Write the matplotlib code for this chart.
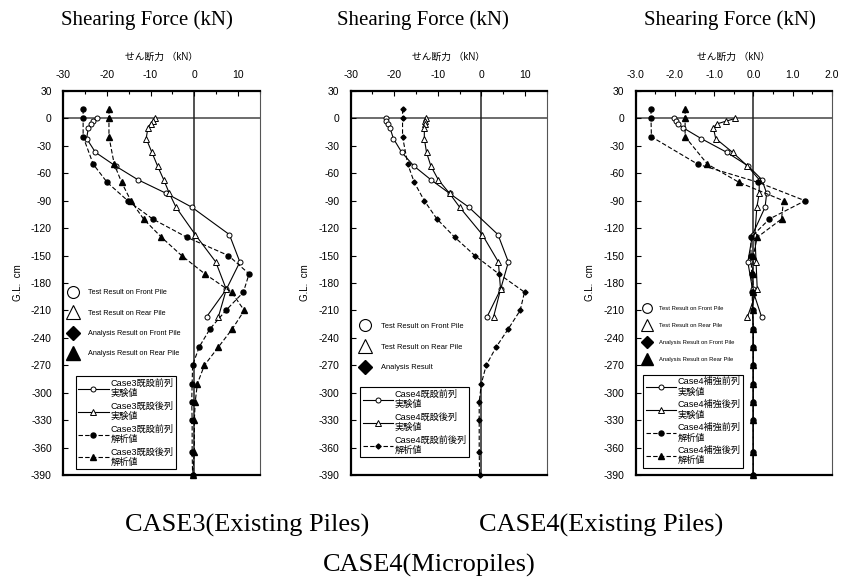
#!/usr/bin/env python3
"""Shearing force distribution along piles - Case3 / Case4 comparison"""
import matplotlib
matplotlib.use("Agg")
import matplotlib.pyplot as plt
from matplotlib.lines import Line2D
from matplotlib.ticker import MultipleLocator

plt.rcParams['font.family'] = ['Liberation Sans', 'Noto Sans CJK JP']
plt.rcParams['axes.unicode_minus'] = False

# depths (G.L. cm)
TEST_DEPTH = [0, -3, -6, -10, -22, -37, -52, -67, -82, -97, -127, -157, -187, -217]
ANALYSIS_DEPTH = [10, 0, -20, -50, -70, -90, -110, -130, -150, -170, -190, -210,
                  -230, -250, -270, -290, -310, -330, -365, -390]

# Case3 existing piles (kN)
C3_FRONT_TEST = [-22.3, -23.1, -23.7, -24.2, -24.6, -22.6, -18.0, -12.9, -6.4, -0.6, 8.0, 10.4, 7.3, 2.8]
C3_REAR_TEST = [-8.9, -9.5, -10.0, -10.6, -11.0, -9.7, -8.4, -7.0, -5.7, -4.2, 0.2, 4.9, 7.3, 5.5]
C3_FRONT_ANA = [-25.4, -25.4, -25.4, -23.1, -19.9, -15.2, -9.5, -1.7, 7.8, 12.5, 11.2, 7.2,
                3.6, 1.1, -0.4, -0.5, -0.6, -0.5, -0.5, -0.4]
C3_REAR_ANA = [-19.5, -19.5, -19.5, -18.3, -16.6, -14.5, -11.6, -7.5, -2.9, 2.4, 8.5, 11.4,
               8.7, 5.5, 2.3, 0.7, 0.2, 0.0, 0.0, -0.4]

# Case4 existing piles (kN)
C4_FRONT_TEST = [-21.9, -21.8, -21.4, -21.0, -20.2, -18.3, -15.5, -11.6, -7.3, -2.9, 3.8, 6.2, 4.4, 1.3]
C4_REAR_TEST = [-12.8, -12.9, -13.0, -13.1, -13.1, -12.6, -11.6, -9.9, -7.3, -5.0, 0.2, 3.9, 4.4, 2.8]
C4_ANA = [-18.1, -18.1, -18.1, -16.9, -15.4, -13.1, -10.2, -6.1, -1.5, 4.0, 9.9, 8.9,
          6.2, 3.4, 1.1, 0.0, -0.5, -0.5, -0.5, -0.4]

# Case4 micropiles (kN)
MP_FRONT_TEST = [-2.02, -1.97, -1.91, -1.80, -1.33, -0.68, -0.13, 0.22, 0.34, 0.30, -0.02, -0.14, -0.02, 0.21]
MP_REAR_TEST = [-0.46, -0.70, -0.93, -1.02, -0.96, -0.53, -0.15, 0.15, 0.15, 0.09, 0.04, 0.07, 0.10, -0.15]
MP_FRONT_ANA = [-2.61, -2.61, -2.60, -1.42, 0.13, 1.32, 0.41, -0.06, -0.06, -0.04, -0.03, -0.02,
                0.0, 0.0, 0.0, 0.0, 0.0, 0.0, 0.0, 0.0]
MP_REAR_ANA = [-1.74, -1.74, -1.74, -1.17, -0.36, 0.77, 0.72, 0.10, 0.0, -0.02, 0.0, -0.02,
               0.0, 0.0, 0.0, 0.0, 0.0, 0.0, 0.0, 0.0]

Y_TICKS = list(range(30, -391, -30))

# plot styles
OPEN_CIRCLE = dict(color='black', lw=0.8, ls='-', marker='o', ms=3.6, mfc='white', mec='black', mew=0.7)
OPEN_TRI = dict(color='black', lw=0.8, ls='-', marker='^', ms=4.0, mfc='white', mec='black', mew=0.7)
FILL_CIRCLE = dict(color='black', lw=0.8, ls=(0, (4, 2)), marker='o', ms=3.6, mfc='black', mec='black')
FILL_TRI = dict(color='black', lw=0.8, ls=(0, (4, 2)), marker='^', ms=4.0, mfc='black', mec='black')
FILL_DIAMOND = dict(color='black', lw=0.8, ls=(0, (4, 2)), marker='D', ms=2.6, mfc='black', mec='black')


def draw_panel(ax, xlim, xmajor, xminor, xfmt, series, mk_labels, mk_styles, mk_opts,
               line_labels, box_anchor):
    for xs, ys, style in series:
        ax.plot(xs, ys, zorder=3, clip_on=False, **style)

    ax.axhline(0, color='#444444', lw=1.1, zorder=1)
    ax.axvline(0, color='#222222', lw=1.1, zorder=1)

    ax.set_xlim(*xlim)
    ax.set_ylim(-390, 30)
    ax.xaxis.set_major_locator(MultipleLocator(xmajor))
    ax.xaxis.set_minor_locator(MultipleLocator(xminor))
    ax.xaxis.set_major_formatter(xfmt)
    ax.set_yticks(Y_TICKS)
    ax.xaxis.tick_top()
    ax.xaxis.set_label_position('top')
    ax.tick_params(axis='both', which='both', direction='in', labelsize=7.5, pad=8)
    ax.tick_params(axis='both', which='major', length=3.5, width=0.8)
    ax.tick_params(axis='x', which='minor', length=2.5, width=0.8)
    ax.tick_params(axis='y', which='major', right=False)

    ax.set_xlabel('せん断力 （kN）', fontsize=7, labelpad=7)
    ax.set_ylabel('G.L.  cm', fontsize=7, labelpad=6)

    for side in ['top', 'left', 'bottom']:
        ax.spines[side].set_linewidth(1.6)
    ax.spines['right'].set_linewidth(0.8)
    ax.spines['right'].set_color('#555555')

    # English marker legend
    handles = [Line2D([], [], ls='none', **kw) for kw in mk_styles]
    leg1 = ax.legend(handles, mk_labels, loc='upper left',
                     bbox_to_anchor=(mk_opts['x'], mk_opts['y']),
                     frameon=False, fontsize=mk_opts['fs'], labelspacing=mk_opts['sp'],
                     handlelength=1.3, handletextpad=mk_opts['pad'], borderpad=0, borderaxespad=0)
    ax.add_artist(leg1)

    # Japanese boxed legend
    line_handles = [Line2D([], [], **style) for _, _, style in series]
    leg2 = ax.legend(line_handles, line_labels, loc='lower left', bbox_to_anchor=box_anchor,
                     frameon=True, fancybox=False, edgecolor='black', framealpha=1,
                     fontsize=6.6, labelspacing=0.35, handlelength=3.3, handletextpad=0.2,
                     borderpad=0.25, borderaxespad=0, numpoints=1)
    leg2.get_frame().set_linewidth(0.8)


fig = plt.figure(figsize=(8.5, 5.79), dpi=100)
axes_rect = [(0.0741, 0.1796, 0.2318, 0.6632),
             (0.4126, 0.1796, 0.2306, 0.6632),
             (0.7479, 0.1796, 0.2306, 0.6632)]
axs = [fig.add_axes(r) for r in axes_rect]

BIG_O = dict(marker='o', ms=8.6, mfc='white', mec='black', mew=0.8)
BIG_TRI_OPEN = dict(marker='^', ms=9.6, mfc='white', mec='black', mew=0.8)
BIG_D = dict(marker='D', ms=7.0, mfc='black', mec='black')
BIG_TRI = dict(marker='^', ms=9.6, mfc='black', mec='black')

int_fmt = plt.FuncFormatter(lambda v, p: f'{v:.0f}')
dec_fmt = plt.FuncFormatter(lambda v, p: f'{v:.1f}')

draw_panel(axs[0], (-30, 15), 10, 5, int_fmt,
           [(C3_FRONT_TEST, TEST_DEPTH, OPEN_CIRCLE),
            (C3_REAR_TEST, TEST_DEPTH, OPEN_TRI),
            (C3_FRONT_ANA, ANALYSIS_DEPTH, FILL_CIRCLE),
            (C3_REAR_ANA, ANALYSIS_DEPTH, FILL_TRI)],
           ['Test Result on Front Pile', 'Test Result on Rear Pile',
            'Analysis Result on Front Pile', 'Analysis Result on Rear Pile'],
           [BIG_O, BIG_TRI_OPEN, BIG_D, BIG_TRI],
           dict(x=0.027, y=0.484, fs=5.2, sp=1.85, pad=1.45),
           ['Case3既設前列\n実験値', 'Case3既設後列\n実験値',
            'Case3既設前列\n解析値', 'Case3既設後列\n解析値'], (0.066, 0.015))

draw_panel(axs[1], (-30, 15), 10, 5, int_fmt,
           [(C4_FRONT_TEST, TEST_DEPTH, OPEN_CIRCLE),
            (C4_REAR_TEST, TEST_DEPTH, OPEN_TRI),
            (C4_ANA, ANALYSIS_DEPTH, FILL_DIAMOND)],
           ['Test Result on Front Pile', 'Test Result on Rear Pile', 'Analysis Result'],
           [BIG_O, BIG_TRI_OPEN, BIG_D],
           dict(x=0.048, y=0.397, fs=5.4, sp=1.8, pad=1.45),
           ['Case4既設前列\n実験値', 'Case4既設後列\n実験値', 'Case4既設前後列\n解析値'],
           (0.049, 0.046))

draw_panel(axs[2], (-3, 2), 1.0, 0.5, dec_fmt,
           [(MP_FRONT_TEST, TEST_DEPTH, OPEN_CIRCLE),
            (MP_REAR_TEST, TEST_DEPTH, OPEN_TRI),
            (MP_FRONT_ANA, ANALYSIS_DEPTH, FILL_CIRCLE),
            (MP_REAR_ANA, ANALYSIS_DEPTH, FILL_TRI)],
           ['Test Result on Front Pile', 'Test Result on Rear Pile',
            'Analysis Result on Front Pile', 'Analysis Result on Rear Pile'],
           [dict(BIG_O, ms=7), dict(BIG_TRI_OPEN, ms=8), dict(BIG_D, ms=5.8), dict(BIG_TRI, ms=8)],
           dict(x=0.037, y=0.44, fs=4.2, sp=2.05, pad=1.5),
           ['Case4補強前列\n実験値', 'Case4補強後列\n実験値',
            'Case4補強前列\n解析値', 'Case4補強後列\n解析値'], (0.039, 0.019))

serif = 'Liberation Serif'
fig.text(146.7 / 850, 1 - 20 / 579, 'Shearing Force (kN)', ha='center', va='center', fontsize=15, family=serif)
fig.text(423.3 / 850, 1 - 20 / 579, 'Shearing Force (kN)', ha='center', va='center', fontsize=15, family=serif)
fig.text(730 / 850, 1 - 20 / 579, 'Shearing Force (kN)', ha='center', va='center', fontsize=15, family=serif)
fig.text(247 / 850, 1 - 525 / 579, 'CASE3(Existing Piles)', ha='center', va='center', fontsize=19, family=serif)
fig.text(601 / 850, 1 - 525 / 579, 'CASE4(Existing Piles)', ha='center', va='center', fontsize=19, family=serif)
fig.text(429 / 850, 1 - 565 / 579, 'CASE4(Micropiles)', ha='center', va='center', fontsize=19, family=serif)

fig.savefig('out.png', dpi=100)
